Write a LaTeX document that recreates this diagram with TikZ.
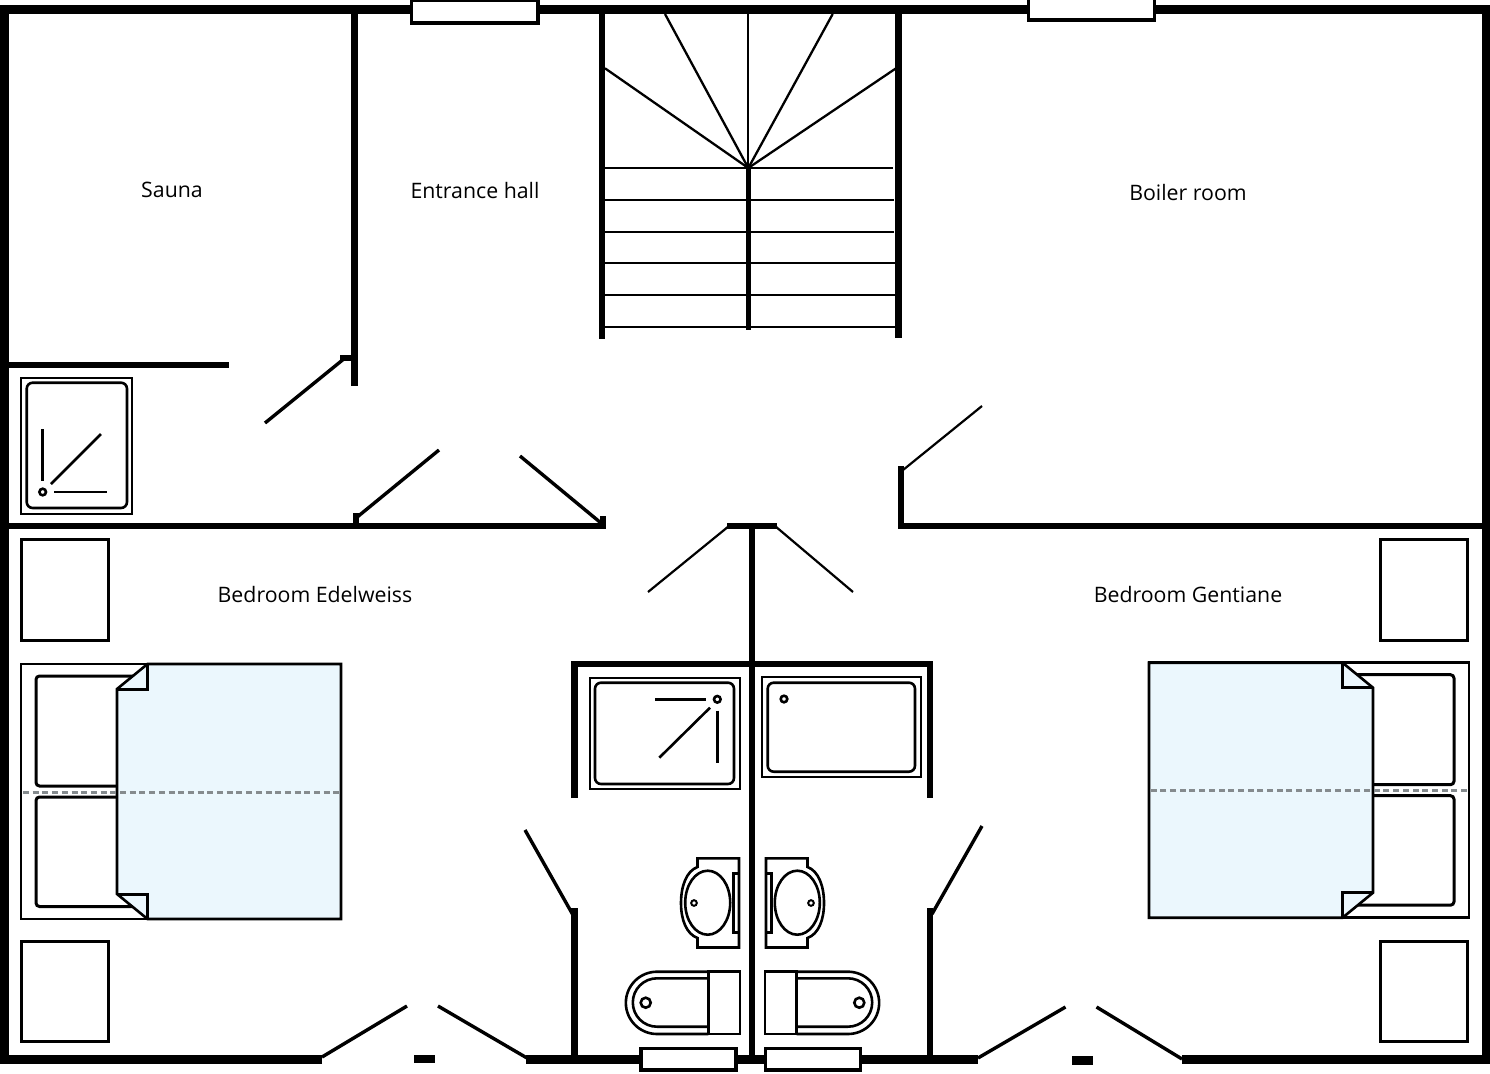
\documentclass[tikz,border=0pt]{standalone}
\usepackage{fontspec}
\usepackage{xcolor}
\setmainfont{Open Sans}
\usetikzlibrary{positioning}
\definecolor{covercol}{HTML}{EBF7FD}
\definecolor{seamcol}{HTML}{858B8E}
\tikzset{
  wallline/.style={line width=6.5pt},
  outerwall/.style={line width=9pt},
  doorleaf/.style={line width=3.4pt},
  doorthin/.style={line width=2.2pt},
  stairline/.style={line width=2.3pt},
  fixture/.style={draw, line width=2.6pt},
  furniture/.style={draw, line width=3pt},
  bedframe/.style={draw, line width=2.6pt},
  windowbox/.style={draw, fill=white, line width=3.8pt},
  roomlabel/.style={font=\fontsize{21.3}{25}\selectfont, text=black}
}
\begin{document}
\begin{tikzpicture}[x=1pt, y=-1pt]
  \useasboundingbox (0,0) rectangle (1490,1073);
  % outer walls
  \draw[outerwall] (322,1059) -- (4,1059) -- (4,9.5) -- (1486,9.5) -- (1486,1059) -- (1182,1059);
  \draw[outerwall] (526,1059) -- (978,1059);
  \fill (413.5,1054.5) rectangle (435,1063);
  \fill (1071.5,1056) rectangle (1092.5,1064.5);
  % inner walls
  \draw[wallline] (0,526) -- (603,526) -- (603,516);
  \draw[wallline] (356,526) -- (356,513);
  \draw[wallline] (1486,526) -- (901,526) -- (901,466);
  \draw[wallline] (354.7,9) -- (354.7,386);
  \draw[wallline] (340,358) -- (354,358);
  \draw[wallline] (0,365) -- (229,365);
  \draw[wallline] (727,526) -- (777,526);
  \draw[wallline] (752,526) -- (752,1059);
  \draw[wallline] (574.7,798) -- (574.7,664) -- (930,664) -- (930,798);
  \draw[wallline] (574.7,908) -- (574.7,1059);
  \draw[wallline] (930,908) -- (930,1059);
  % doors
  \draw[doorleaf] (345,358) -- (265,423);
  \draw[doorleaf] (356,518) -- (439,450);
  \draw[doorleaf] (601,523) -- (520,456);
  \draw[doorthin] (903,470) -- (982,406);
  \draw[doorthin] (729,526) -- (648,592);
  \draw[doorthin] (775,526) -- (853,592);
  \draw[doorleaf] (525,830) -- (573,915);
  \draw[doorleaf] (982,826) -- (932,914);
  \draw[doorleaf] (322,1057) -- (407,1006);
  \draw[doorleaf] (438,1006) -- (527,1058);
  \draw[doorleaf] (978,1058) -- (1065.5,1007);
  \draw[doorleaf] (1096.5,1007) -- (1182,1059);
  % windows
  \draw[windowbox] (411.5,0.5) rectangle (538,23);
  \draw[windowbox] (1028.5,-4) rectangle (1154.5,20);
  \draw[windowbox] (641,1048.5) rectangle (736,1070);
  \draw[windowbox] (765.5,1048.5) rectangle (860.5,1070);
  % stairs
  \draw[wallline] (602,9) -- (602,339);
  \draw[wallline] (898.7,9) -- (898.7,338);
  \draw[line width=4.5pt] (748.3,168) -- (748.3,330);
  \foreach \tx/\ty in {605/68.3, 665/14, 748.3/14, 832.7/14, 896/68.3}
    \draw[stairline] (748.3,168) -- (\tx,\ty);
  \foreach \ty/\tend in {168.3/893, 200/894, 231.7/894, 263.3/896, 295/896, 327/896}
    \draw[stairline] (605,\ty) -- (\tend,\ty);
  % shower in the sauna
  \draw[fixture] (21,378) rectangle (132,514);
  \draw[fixture, rounded corners=6pt] (26.7,382.7) rectangle (127,508);
  \draw[fixture] (42.7,492) circle (3.3);
  \draw[fixture] (42.7,429) -- (42.7,481);
  \draw[fixture] (51,484) -- (101,434);
  \draw[fixture] (54,492) -- (107,492);
  % bathroom shower and bath
  \draw[fixture] (590,678) rectangle (740,789);
  \draw[fixture, rounded corners=6pt] (595,682.7) rectangle (734,784);
  \draw[fixture] (717.3,699.3) circle (3.3);
  \draw[fixture] (655,699.3) -- (705.7,699.3);
  \draw[fixture] (710,707.7) -- (659.3,757.7);
  \draw[fixture] (717.3,710.7) -- (717.3,763.3);
  \draw[fixture] (762,677) rectangle (921,777);
  \draw[fixture, rounded corners=6pt] (767.7,682.7) rectangle (915,771.7);
  \draw[fixture] (784,699) circle (3.3);
  % basins and toilets, mirrored about the middle wall
  \foreach \mx in {1,-1} {
    \begin{scope}[shift={(752.5,0)}, xscale=\mx]
      \draw[fixture] (-13.5,858.3) -- (-55,858.3) -- (-55,867)
        .. controls (-66,871) and (-71.5,886) .. (-71.5,903)
        .. controls (-71.5,920) and (-66,934) .. (-55,938)
        -- (-55,947.5) -- (-13.5,947.5) -- cycle;
      \draw[fixture] (-13.5,873.5) -- (-18.8,873.5) -- (-18.8,932.5) -- (-13.5,932.5);
      \draw[fixture] (-44.8,902.7) circle[x radius=22.5, y radius=32];
      \draw[fixture, line width=2pt] (-58.5,903) circle (2.8);
      \draw[fixture] (-44.2,971.7) rectangle (-12.5,1034);
      \draw[fixture] (-44.2,971.7) -- (-95.5,971.7) arc[start angle=270, end angle=90, radius=31.15] -- (-44.2,1034);
      \draw[fixture] (-44.2,978.3) -- (-95.5,978.3) arc[start angle=270, end angle=90, radius=24.2] -- (-44.2,1026.7);
      \draw[fixture] (-106.8,1002.7) circle (5);
    \end{scope}
  }
  % night tables
  \foreach \tx in {21.5,1380.5} {
    \draw[furniture] (\tx,539.5) rectangle ++(87,101);
    \draw[furniture] (\tx,941.5) rectangle ++(87,100);
  }
  % beds
  \foreach \mx/\sy in {1/0,-1/-1.3} {
    \begin{scope}[shift={(745,\sy)}, xscale=\mx]
      \draw[bedframe] (-724,664) rectangle (-404,919);
      \draw[furniture, rounded corners=3.5pt] (-600,676) -- (-709,676) -- (-709,786) -- (-600,786);
      \draw[furniture, rounded corners=3.5pt] (-600,797) -- (-709,797) -- (-709,906.5) -- (-600,906.5);
      \draw[bedframe, fill=covercol] (-404,664) -- (-597.5,664) -- (-628,689) -- (-628,894) -- (-597.5,919) -- (-404,919) -- cycle;
      \draw[furniture] (-628,689) -- (-597.5,689) -- (-597.5,664);
      \draw[furniture] (-628,894) -- (-597.5,894) -- (-597.5,919);
      \draw[seamcol, line width=3pt, dash pattern=on 6pt off 3.7pt] (-722,792) -- (-405,792);
    \end{scope}
  }
  % room names
  \node[roomlabel] (sauna) at (172,190) {Sauna};
  \node[roomlabel] (hall) at (475,191) {Entrance hall};
  \node[roomlabel] (boiler) at (1188,193) {Boiler room};
  \node[roomlabel] (edelweiss) at (315,595) {Bedroom Edelweiss};
  \node[roomlabel] (gentiane) at (1188,595) {Bedroom Gentiane};
\end{tikzpicture}
\end{document}
